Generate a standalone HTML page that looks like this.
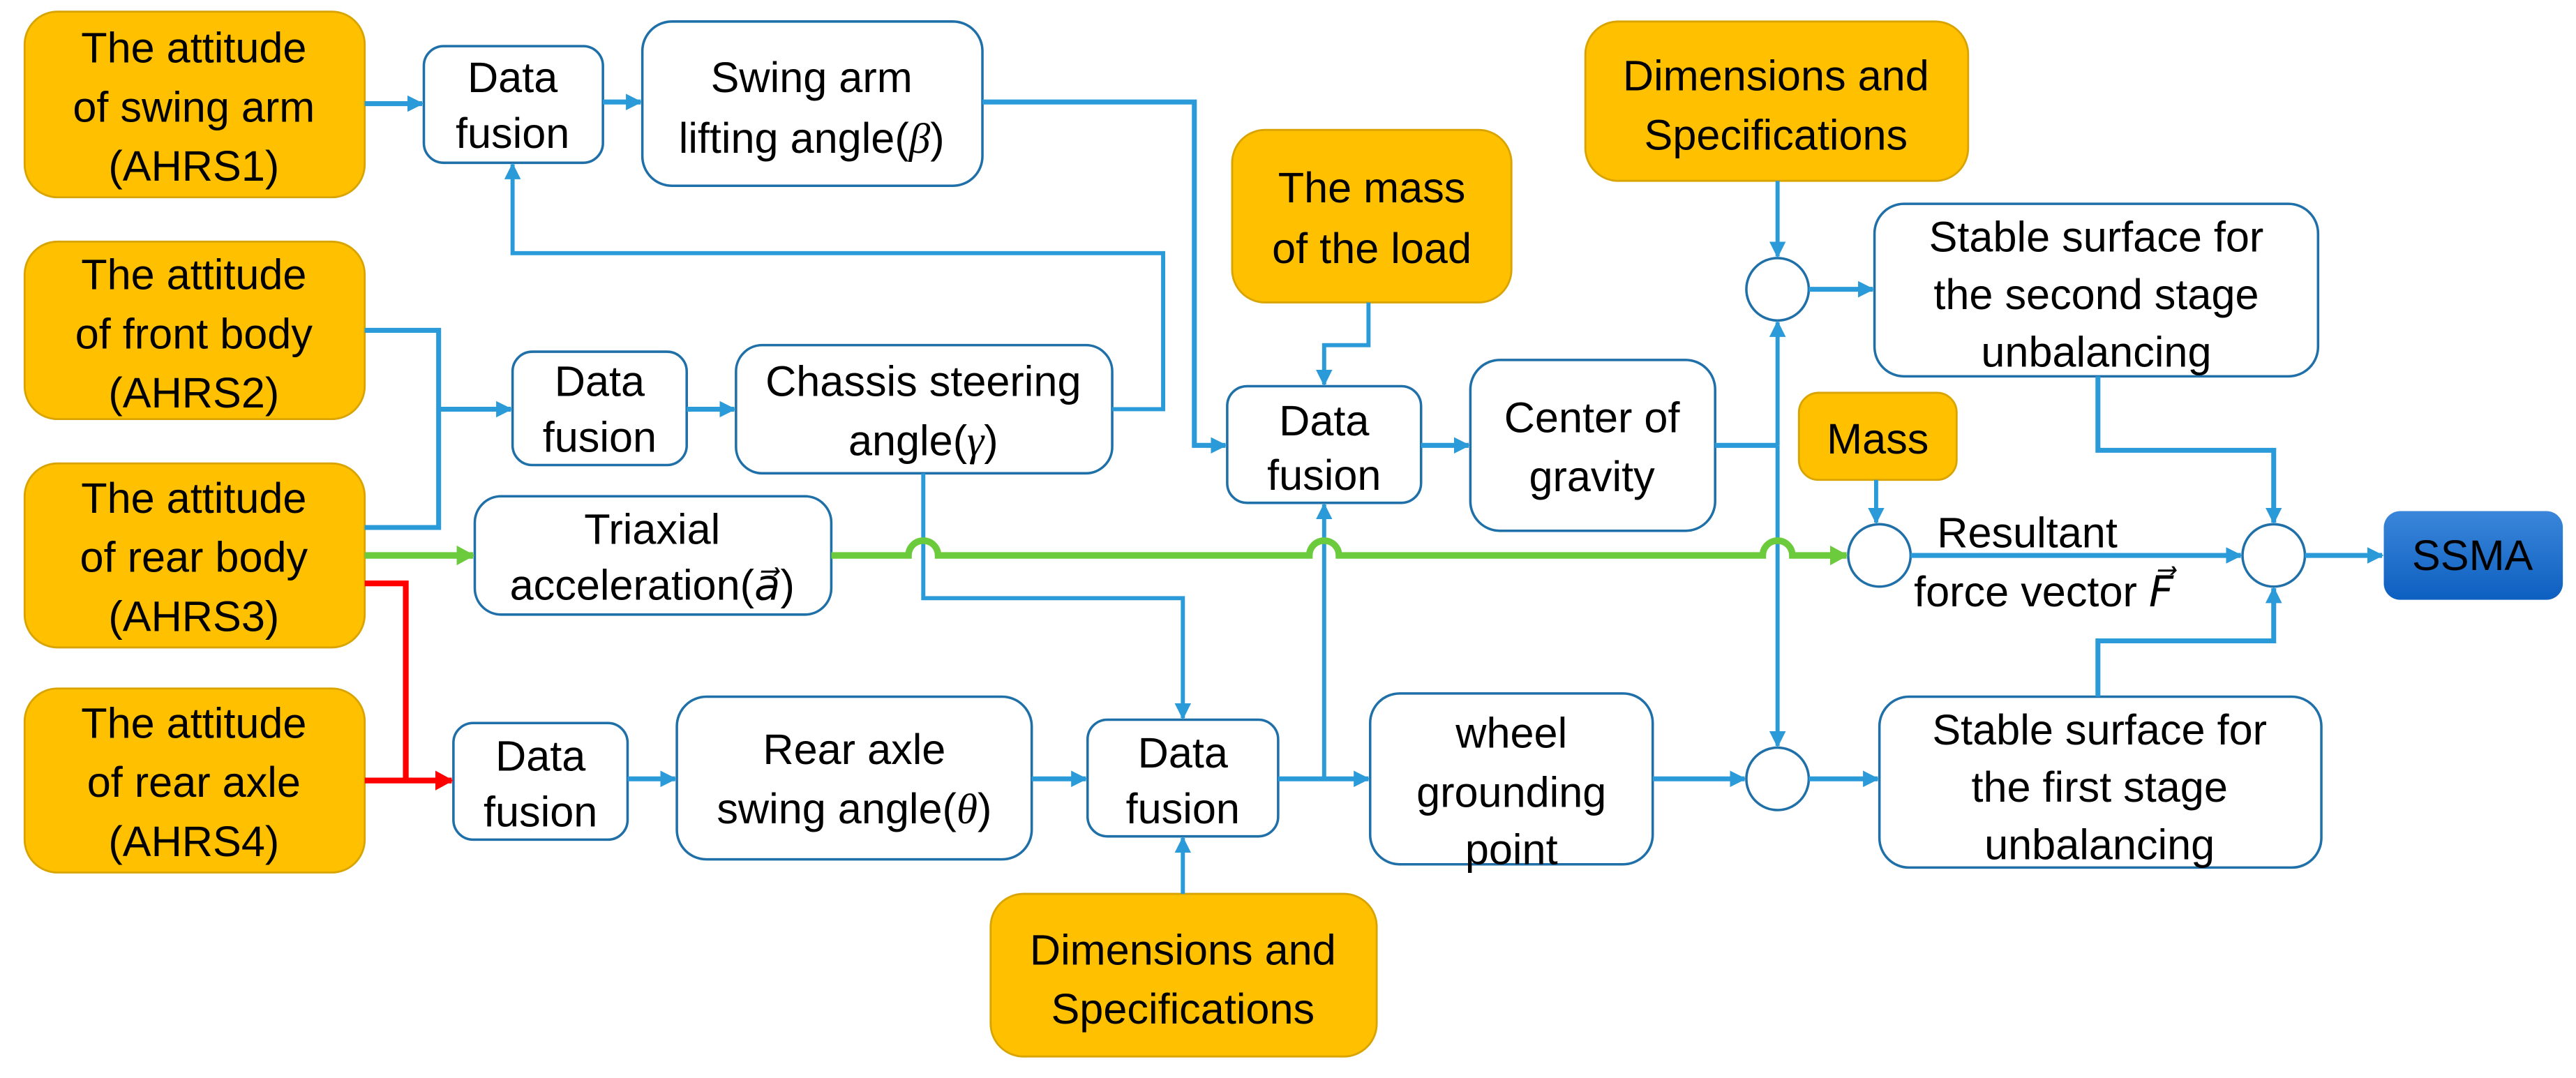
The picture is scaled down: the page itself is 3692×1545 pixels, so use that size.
<!DOCTYPE html>
<html><head><meta charset="utf-8"><style>
html,body{margin:0;padding:0;background:#fff;}
svg{display:block;}
text{font-family:"Liberation Sans",sans-serif;font-size:26px;fill:#000;text-anchor:middle;}
</style></head><body>
<svg width="3692" height="1545" viewBox="0 0 1568 656" xmlns="http://www.w3.org/2000/svg">
<defs>
<marker id="ab" markerWidth="10" markerHeight="10" refX="9" refY="5" orient="auto" markerUnits="userSpaceOnUse"><path d="M0,0 L10,5 L0,10 Z" fill="#2A9AD8"/></marker>
<marker id="ag" markerWidth="11" markerHeight="12" refX="10" refY="6" orient="auto" markerUnits="userSpaceOnUse"><path d="M0,0 L11,6 L0,12 Z" fill="#6CCB3C"/></marker>
<marker id="ar" markerWidth="11" markerHeight="12" refX="10" refY="6" orient="auto" markerUnits="userSpaceOnUse"><path d="M0,0 L11,6 L0,12 Z" fill="#FF0000"/></marker>
<linearGradient id="sg" x1="0" y1="0" x2="0" y2="1"><stop offset="0" stop-color="#3A86DA"/><stop offset="1" stop-color="#0D5FC0"/></linearGradient>
</defs>
<g fill="#FFC000" stroke="#D9A400" stroke-width="1.2">
<rect x="15" y="7" width="207" height="113" rx="20"/>
<rect x="15" y="147" width="207" height="108" rx="20"/>
<rect x="15" y="282" width="207" height="112" rx="20"/>
<rect x="15" y="419" width="207" height="112" rx="20"/>
<rect x="750" y="79" width="170" height="105" rx="20"/>
<rect x="965" y="13" width="233" height="97" rx="20"/>
<rect x="1095" y="239" width="96" height="53" rx="12"/>
<rect x="603" y="544" width="235" height="99" rx="20"/>
</g>
<rect x="1451" y="311" width="109" height="54" rx="10" fill="url(#sg)"/>
<g fill="#fff" stroke="#1F6FA8" stroke-width="1.5">
<rect x="258" y="28" width="109" height="71" rx="12"/>
<rect x="391" y="13" width="207" height="100" rx="18"/>
<rect x="312" y="214" width="106" height="69" rx="12"/>
<rect x="448" y="210" width="229" height="78" rx="16"/>
<rect x="289" y="302" width="217" height="72" rx="16"/>
<rect x="276" y="440" width="106" height="71" rx="12"/>
<rect x="412" y="424" width="216" height="99" rx="18"/>
<rect x="662" y="438" width="116" height="71" rx="12"/>
<rect x="747" y="235" width="118" height="71" rx="12"/>
<rect x="895" y="219" width="149" height="104" rx="18"/>
<rect x="834" y="422" width="172" height="104" rx="18"/>
<rect x="1141" y="124" width="270" height="105" rx="18"/>
<rect x="1144" y="424" width="269" height="104" rx="18"/>
<ellipse cx="1082" cy="176" rx="19" ry="19"/>
<ellipse cx="1082" cy="474" rx="19" ry="19"/>
<ellipse cx="1144" cy="338" rx="19" ry="19"/>
<ellipse cx="1384" cy="338" rx="19" ry="19"/>
</g>
<g fill="none" stroke="#2A9AD8" stroke-width="3">
<path d="M222,63 H257" marker-end="url(#ab)"/>
<path d="M367,62 H390" marker-end="url(#ab)"/>
<path d="M598,62 H727 V271 H746" marker-end="url(#ab)"/>
<path d="M677,249 H708 V154 H312 V100" marker-end="url(#ab)" stroke-width="2.5"/>
<path d="M222,201 H267 V321 H222"/>
<path d="M267,249 H311" marker-end="url(#ab)"/>
<path d="M418,249 H447" marker-end="url(#ab)"/>
<path d="M562,288 V364 H720 V437" marker-end="url(#ab)" stroke-width="2.5"/>
<path d="M382,474 H411" marker-end="url(#ab)"/>
<path d="M628,474 H661" marker-end="url(#ab)"/>
<path d="M720,544 V510" marker-end="url(#ab)" stroke-width="2.5"/>
<path d="M778,474 H833" marker-end="url(#ab)"/>
<path d="M806,474 V307" marker-end="url(#ab)" stroke-width="2.5"/>
<path d="M833,184 V210 H806 V234" marker-end="url(#ab)" stroke-width="2.5"/>
<path d="M865,271 H894" marker-end="url(#ab)"/>
<path d="M1044,271 H1082"/>
<path d="M1082,110 V156" marker-end="url(#ab)" stroke-width="2.5"/>
<path d="M1082,271 V196" marker-end="url(#ab)" stroke-width="2.5"/>
<path d="M1082,271 V454" marker-end="url(#ab)" stroke-width="2.5"/>
<path d="M1101,176 H1140" marker-end="url(#ab)"/>
<path d="M1006,474 H1062" marker-end="url(#ab)"/>
<path d="M1101,474 H1143" marker-end="url(#ab)"/>
<path d="M1277,229 V274 H1384 V318" marker-end="url(#ab)"/>
<path d="M1277,424 V390 H1384 V358" marker-end="url(#ab)"/>
<path d="M1142,292 V318" marker-end="url(#ab)" stroke-width="2.5"/>
<path d="M1163,338 H1364" marker-end="url(#ab)"/>
<path d="M1403,338 H1450" marker-end="url(#ab)"/>
</g>
<path d="M222,338 H288" fill="none" stroke="#6CCB3C" stroke-width="4" marker-end="url(#ag)"/>
<path d="M506,338 H553 A9,9 0 0 1 571,338 H797 A9,9 0 0 1 815,338 H1073 A9,9 0 0 1 1091,338 H1124" fill="none" stroke="#6CCB3C" stroke-width="4" marker-end="url(#ag)"/>
<path d="M222,355 H247 V475 H222 M247,475 H275" fill="none" stroke="#FF0000" stroke-width="3.5" marker-end="url(#ar)"/>
<g>
<text x="118" y="38">The attitude</text><text x="118" y="74">of swing arm</text><text x="118" y="110">(AHRS1)</text>
<text x="118" y="176">The attitude</text><text x="118" y="212">of front body</text><text x="118" y="248">(AHRS2)</text>
<text x="118" y="312">The attitude</text><text x="118" y="348">of rear body</text><text x="118" y="384">(AHRS3)</text>
<text x="118" y="449">The attitude</text><text x="118" y="485">of rear axle</text><text x="118" y="521">(AHRS4)</text>
<text x="312" y="56">Data</text><text x="312" y="90">fusion</text>
<text x="494" y="56">Swing arm</text><text x="494" y="93">lifting angle(<tspan font-style="italic" font-family="Liberation Serif">β</tspan>)</text>
<text x="365" y="241">Data</text><text x="365" y="275">fusion</text>
<text x="562" y="241">Chassis steering</text><text x="562" y="277">angle(<tspan font-style="italic" font-family="Liberation Serif">γ</tspan>)</text>
<text x="397" y="331">Triaxial</text><text x="397" y="365">acceleration(<tspan font-style="italic" font-family="Liberation Serif">a⃗</tspan>)</text>
<text x="329" y="469">Data</text><text x="329" y="503">fusion</text>
<text x="520" y="465">Rear axle</text><text x="520" y="501">swing angle(<tspan font-style="italic" font-family="Liberation Serif">θ</tspan>)</text>
<text x="720" y="467">Data</text><text x="720" y="501">fusion</text>
<text x="720" y="587">Dimensions and</text><text x="720" y="623">Specifications</text>
<text x="806" y="265">Data</text><text x="806" y="298">fusion</text>
<text x="835" y="123">The mass</text><text x="835" y="160">of the load</text>
<text x="969" y="263">Center of</text><text x="969" y="299">gravity</text>
<text x="1081" y="55">Dimensions and</text><text x="1081" y="91">Specifications</text>
<text x="1143" y="276">Mass</text>
<text x="920" y="455">wheel</text><text x="920" y="491">grounding</text><text x="920" y="526">point</text>
<text x="1276" y="153">Stable surface for</text><text x="1276" y="188">the second stage</text><text x="1276" y="223">unbalancing</text>
<text x="1278" y="453">Stable surface for</text><text x="1278" y="488">the first stage</text><text x="1278" y="523">unbalancing</text>
<text x="1234" y="333" font-size="21">Resultant</text>
<text x="1244" y="369" font-size="21">force vector <tspan font-style="italic" font-family="Liberation Serif">F⃗</tspan></text>
<text x="1505" y="347" font-size="26">SSMA</text>
</g>
</svg>
</body></html>
